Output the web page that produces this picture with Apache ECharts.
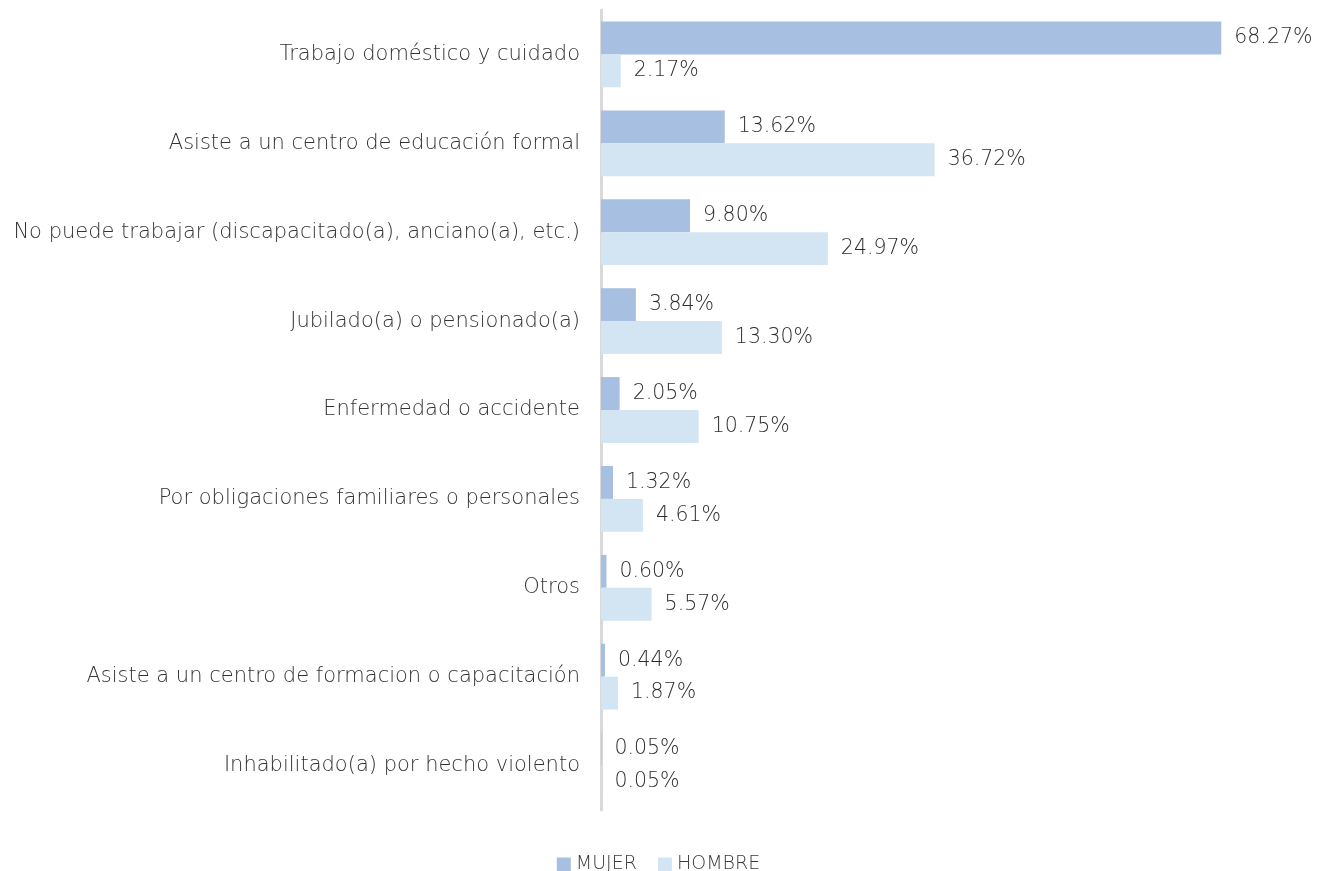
<!DOCTYPE html>
<html>
<head>
    <meta charset="utf-8">
    <title>ECharts</title>
    <script src="https://cdn.jsdelivr.net/npm/echarts@6/dist/echarts.min.js"></script>
</head>
<body style="margin:0;">
<div id="main" style="width: 1317px;height:871px;"></div>
<script type="text/javascript">
    // categorias (de arriba hacia abajo)
    var categorias = [
        'Trabajo doméstico y cuidado',
        'Asiste a un centro de educación formal',
        'No puede trabajar (discapacitado(a), anciano(a), etc.)',
        'Jubilado(a) o pensionado(a)',
        'Enfermedad o accidente',
        'Por obligaciones familiares o personales',
        'Otros',
        'Asiste a un centro de formacion o capacitación',
        'Inhabilitado(a) por hecho violento'
    ];
    var mujer = [68.27, 13.62, 9.80, 3.84, 2.05, 1.32, 0.60, 0.44, 0.05];
    var hombre = [2.17, 36.72, 24.97, 13.30, 10.75, 4.61, 5.57, 1.87, 0.05];

    var fuente = 'DejaVu Sans';
    var myChart = echarts.init(document.getElementById('main'));

    var etiqueta = {
        show: true,
        position: 'right',
        distance: 13,
        color: '#2e2e2e',
        fontSize: 20.5,
        fontWeight: 200,
        fontFamily: fuente,
        formatter: function (p) { return p.value.toFixed(2) + '%'; }
    };

    myChart.setOption({
        animation: false,
        textStyle: { fontFamily: fuente },
        legend: {
            left: 'center',
            top: 850,
            itemWidth: 14,
            itemHeight: 14,
            itemGap: 21,
            icon: 'rect',
            textStyle: { color: '#3a3a3a', fontSize: 19, fontWeight: 200, fontFamily: fuente },
            data: ['MUJER', 'HOMBRE']
        },
        grid: {
            left: 601,
            right: 80,
            top: 10,
            bottom: 61
        },
        xAxis: {
            type: 'value',
            min: 0,
            max: 70,
            show: false,
            splitLine: { show: false }
        },
        yAxis: {
            type: 'category',
            inverse: true,
            data: categorias,
            axisLine: { lineStyle: { color: '#d9d9d9', width: 3 } },
            axisTick: { show: false },
            axisLabel: { color: '#333333', fontSize: 21, fontWeight: 200, margin: 21, fontFamily: fuente }
        },
        series: [
            {
                name: 'MUJER',
                type: 'bar',
                data: mujer,
                barGap: '0%',
                barCategoryGap: '26%',
                itemStyle: { color: '#a7bfe1' },
                label: etiqueta
            },
            {
                name: 'HOMBRE',
                type: 'bar',
                data: hombre,
                itemStyle: { color: '#d3e5f3' },
                label: etiqueta
            }
        ]
    });
</script>
</body>
</html>
